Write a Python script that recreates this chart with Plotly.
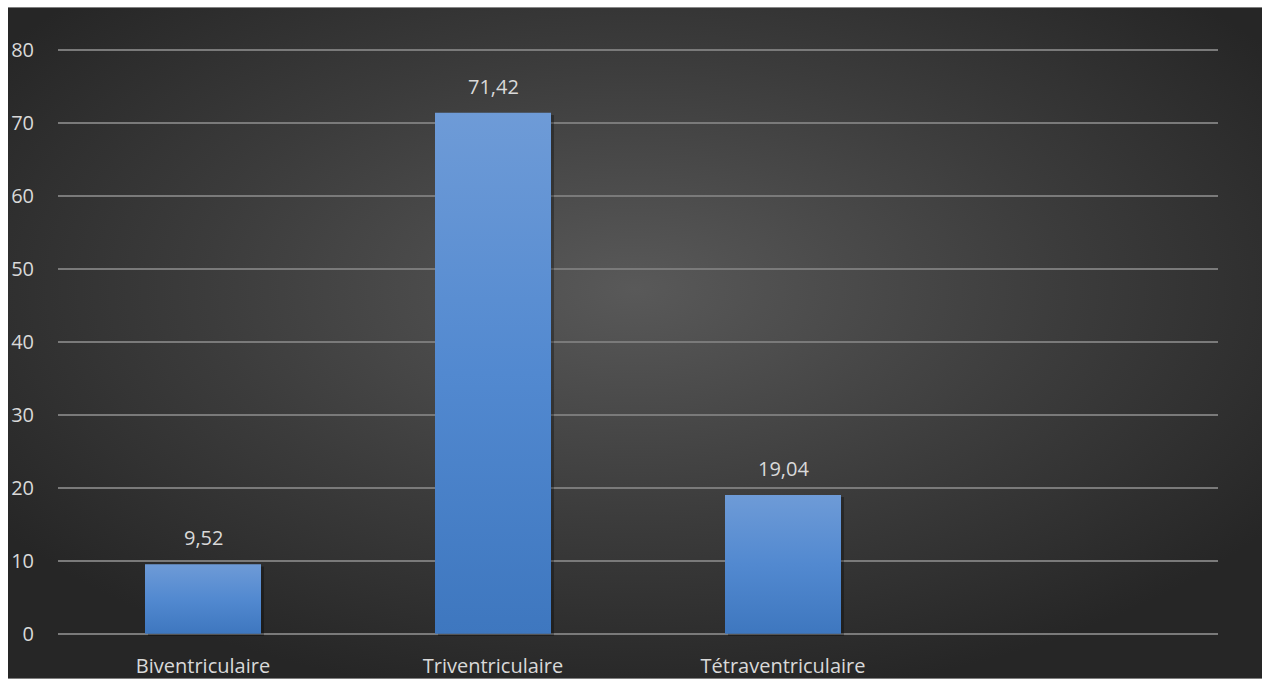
import plotly.graph_objects as go
import urllib.parse

categories = ["Biventriculaire", "Triventriculaire", "Tétraventriculaire"]
values = [9.52, 71.42, 19.04]
y_ticks = [0, 10, 20, 30, 40, 50, 60, 70, 80]

W, H = 1269, 679
y_top_px, y_zero_px = 50, 634          # pixel rows of 80 and 0
pad = 0.3                               # keep edge gridlines visible
k = (y_zero_px - y_top_px) / (y_ticks[-1] - y_ticks[0])
L, R = 58, 51
T = y_top_px - pad * k
B = H - y_zero_px - pad * k
pw, ph = W - L - R, H - T - B

text_color = "#d9d9d9"
font_family = "Open Sans, Liberation Sans, sans-serif"
font_size = 20

# radial background panel
svg = (
    '<svg xmlns="http://www.w3.org/2000/svg" width="1254" height="672" viewBox="0 0 1254 672" preserveAspectRatio="none">'
    '<defs><radialGradient id="g" cx="0.5" cy="0.42" r="0.62">'
    '<stop offset="0" stop-color="#595959"/>'
    '<stop offset="0.55" stop-color="#3c3c3c"/>'
    '<stop offset="1" stop-color="#262626"/>'
    '</radialGradient></defs>'
    '<rect width="1254" height="672" fill="url(#g)"/></svg>'
)
bg_src = "data:image/svg+xml;charset=utf-8," + urllib.parse.quote(svg)

x0_px, x1_px, y0_px, y1_px = 8, 1262, 7, 679
img_x = (x0_px - L) / pw
img_y = (H - B - y0_px) / ph
img_sx = (x1_px - x0_px) / pw
img_sy = (y1_px - y0_px) / ph

fig = go.Figure()

half = 0.2
dx = 3 / pw * 4.0   # shadow offset in axis units
for i, v in enumerate(values):
    # soft shadow
    fig.add_trace(go.Scatter(
        x=[i - half + dx, i + half + dx, i + half + dx, i - half + dx, i - half + dx],
        y=[-0.4, -0.4, v - 0.3, v - 0.3, -0.4],
        fill="toself", fillcolor="rgba(0,0,0,0.3)",
        line=dict(width=0), mode="lines", hoverinfo="skip", showlegend=False,
    ))
    fig.add_trace(go.Scatter(
        x=[i - half, i + half, i + half, i - half, i - half],
        y=[0, 0, v, v, 0],
        fill="toself",
        fillgradient=dict(type="vertical",
                          colorscale=[[0, "#3e77bf"], [0.5, "#5289d0"], [1, "#6e9bd7"]]),
        line=dict(width=0), mode="lines", hoverinfo="skip", showlegend=False,
    ))

annotations = [
    dict(x=i, y=v, xref="x", yref="y", text=f"{v:.2f}".replace(".", ","),
         showarrow=False, yanchor="bottom", yshift=11,
         font=dict(size=font_size, color=text_color, family=font_family))
    for i, v in enumerate(values)
]

fig.update_layout(
    width=W, height=H,
    margin=dict(l=L, r=R, t=T, b=B, autoexpand=False),
    paper_bgcolor="white", plot_bgcolor="rgba(0,0,0,0)",
    images=[dict(source=bg_src, xref="paper", yref="paper", x=img_x, y=img_y,
                 sizex=img_sx, sizey=img_sy, xanchor="left", yanchor="top",
                 sizing="stretch", layer="below")],
    annotations=annotations,
    xaxis=dict(range=[-0.5, 3.5], tickvals=list(range(len(categories))),
               ticktext=categories, showgrid=False, zeroline=False,
               showline=False, ticks="", ticklen=0, ticklabelstandoff=16,
               automargin=False,
               tickfont=dict(size=font_size, color=text_color, family=font_family)),
    yaxis=dict(range=[y_ticks[0] - pad, y_ticks[-1] + pad], tickvals=y_ticks,
               showgrid=True, gridcolor="#7a7a7a", gridwidth=1.5, zeroline=False,
               showline=False, ticks="", ticklabelstandoff=23, automargin=False,
               tickfont=dict(size=font_size, color=text_color, family=font_family)),
)

fig.write_html("out.html")
